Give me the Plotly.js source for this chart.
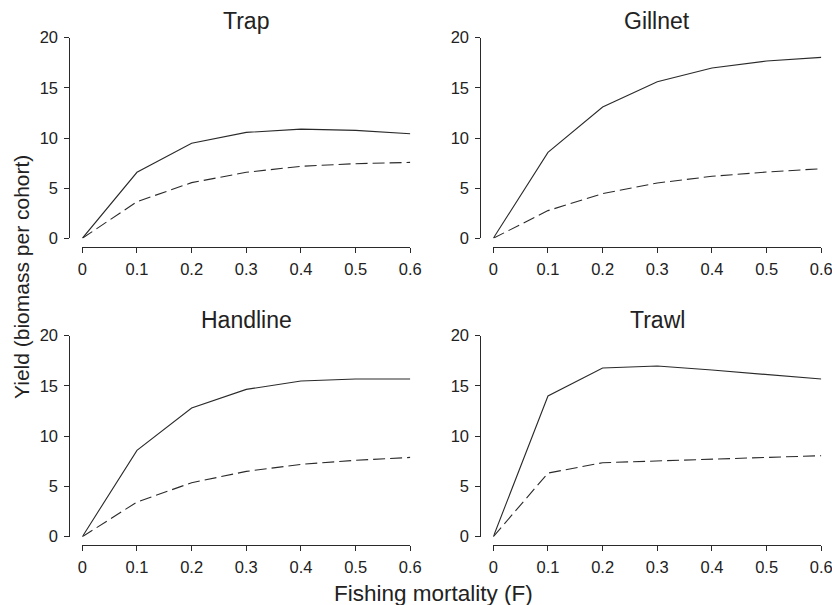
<!DOCTYPE html>
<html>
<head>
<meta charset="utf-8">
<script src="https://cdn.plot.ly/plotly-3.0.1.min.js"></script>
<style>html,body{margin:0;padding:0;background:#fff;overflow:hidden;}#chart{width:832px;height:605px;}</style>
</head>
<body>
<div id="chart"></div>
<script>
var F = [0, 0.1, 0.2, 0.3, 0.4, 0.5, 0.6];
var panels = ["Trap", "Gillnet", "Handline", "Trawl"];
var trapSolid = [0, 6.58, 9.47, 10.56, 10.88, 10.76, 10.43];
var trapDashed = [0, 3.65, 5.55, 6.58, 7.18, 7.44, 7.57];
var gillnetSolid = [0, 8.57, 13.09, 15.61, 16.98, 17.67, 18.04];
var gillnetDashed = [0, 2.76, 4.45, 5.51, 6.18, 6.61, 6.94];
var handlineSolid = [0, 8.59, 12.8, 14.66, 15.49, 15.69, 15.69];
var handlineDashed = [0, 3.45, 5.37, 6.5, 7.2, 7.6, 7.89];
var trawlSolid = [0, 14.0, 16.78, 16.98, 16.58, 16.15, 15.69];
var trawlDashed = [0, 6.33, 7.36, 7.56, 7.73, 7.89, 8.06];
var xTicks = [0, 0.1, 0.2, 0.3, 0.4, 0.5, 0.6];
var xTickText = ["0", "0.1", "0.2", "0.3", "0.4", "0.5", "0.6"];
var yTicks = [0, 5, 10, 15, 20];
var yTickText = ["0", "5", "10", "15", "20"];
var xTitle = "Fishing mortality (F)";
var yTitle = "Yield (biomass per cohort)";

var solids = [trapSolid, gillnetSolid, handlineSolid, trawlSolid];
var dashes = [trapDashed, gillnetDashed, handlineDashed, trawlDashed];

var W = 832, H = 605;
function px(v){ return v / W; }
function py(v){ return 1 - v / H; }

// pixel geometry of panels
var geo = [
  {x0: 82.3, x1: 410.3, yTop: 37.7, yBot: 238.3, yAxisX: 69.3, xAxisY: 246.7, titleY: 21},
  {x0: 493.3, x1: 821.3, yTop: 37.7, yBot: 238.3, yAxisX: 480.3, xAxisY: 246.7, titleY: 21},
  {x0: 82.3, x1: 410.3, yTop: 335.7, yBot: 536.7, yAxisX: 69.3, xAxisY: 545, titleY: 320},
  {x0: 493.3, x1: 821.3, yTop: 335.7, yBot: 536.7, yAxisX: 480.3, xAxisY: 545, titleY: 320}
];

var lineCol = "#2a2a2a";
var textCol = "#222";
var fontFam = "Liberation Sans, Arial, Helvetica, sans-serif";

var data = [];
var layout = {
  width: W, height: H,
  margin: {l: 0, r: 0, t: 0, b: 0},
  paper_bgcolor: "#fff", plot_bgcolor: "rgba(0,0,0,0)",
  showlegend: false,
  font: {family: fontFam, color: textCol, size: 16.5},
  annotations: []
};

for (var i = 0; i < 4; i++) {
  var sfx = i === 0 ? "" : String(i + 1);
  var g = geo[i];
  data.push({x: F, y: solids[i], type: "scatter", mode: "lines",
    xaxis: "x" + sfx, yaxis: "y" + sfx,
    line: {color: lineCol, width: 1.1}, hoverinfo: "skip"});
  data.push({x: F, y: dashes[i], type: "scatter", mode: "lines",
    xaxis: "x" + sfx, yaxis: "y" + sfx,
    line: {color: lineCol, width: 1.1, dash: "12px,5px"}, hoverinfo: "skip"});
  layout["xaxis" + sfx] = {
    domain: [px(g.x0), px(g.x1)], range: [0, 0.6],
    anchor: "free", position: py(g.xAxisY),
    showline: true, linecolor: lineCol, linewidth: 1,
    ticks: "outside", ticklen: 5, tickcolor: lineCol, tickwidth: 1,
    tickmode: "array", tickvals: xTicks, ticktext: xTickText,
    ticklabelstandoff: 2, ticklabeloverflow: "allow",
    showgrid: false, zeroline: false, fixedrange: true,
    tickfont: {family: fontFam, size: 16.5, color: textCol}
  };
  layout["yaxis" + sfx] = {
    domain: [py(g.yBot), py(g.yTop)], range: [0, 20],
    anchor: "free", position: px(g.yAxisX),
    showline: true, linecolor: lineCol, linewidth: 1,
    ticks: "outside", ticklen: 5, tickcolor: lineCol, tickwidth: 1,
    tickmode: "array", tickvals: yTicks, ticktext: yTickText,
    ticklabelstandoff: 3, ticklabeloverflow: "allow",
    showgrid: false, zeroline: false, fixedrange: true,
    tickfont: {family: fontFam, size: 16.5, color: textCol}
  };
  layout.annotations.push({
    text: panels[i], xref: "paper", yref: "paper",
    x: px((g.x0 + g.x1) / 2), y: py(g.titleY),
    xanchor: "center", yanchor: "middle", showarrow: false,
    font: {family: fontFam, size: 23, color: textCol}
  });
}

layout.annotations.push({
  text: xTitle, xref: "paper", yref: "paper",
  x: px(433), y: py(593), xanchor: "center", yanchor: "middle",
  showarrow: false, font: {family: fontFam, size: 22.5, color: textCol}
});
layout.annotations.push({
  text: yTitle, xref: "paper", yref: "paper",
  x: px(22), y: py(277), xanchor: "center", yanchor: "middle",
  textangle: -90, showarrow: false,
  font: {family: fontFam, size: 21, color: textCol}
});

Plotly.newPlot("chart", data, layout, {displayModeBar: false, staticPlot: true});
</script>
</body>
</html>
